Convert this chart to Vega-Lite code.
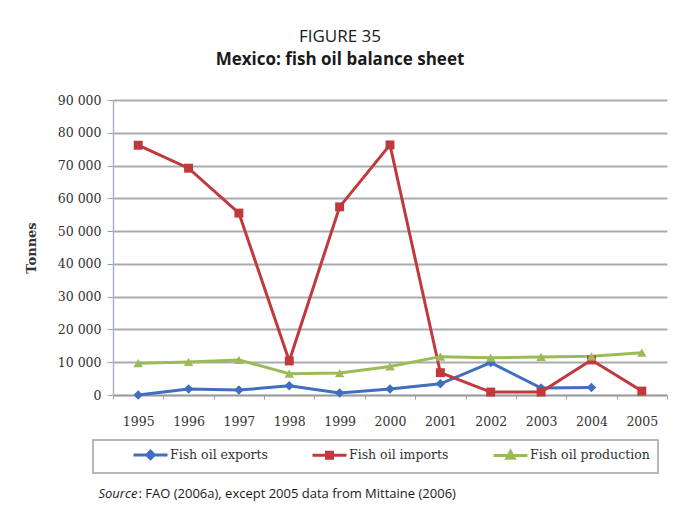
{
  "$schema": "https://vega.github.io/schema/vega-lite/v6.json",
  "autosize": {"type": "none"},
  "width": 554,
  "height": 295,
  "padding": {"left": 113, "top": 100, "right": 8, "bottom": 114},
  "background": "white",
  "title": {
    "text": "FIGURE 35",
    "subtitle": "Mexico: fish oil balance sheet",
    "anchor": "middle",
    "frame": "group",
    "dx": -50,
    "offset": 25,
    "font": "Open Sans",
    "fontSize": 17,
    "fontWeight": "normal",
    "color": "#1a1a1a",
    "subtitleFont": "Open Sans",
    "subtitleFontSize": 17,
    "subtitleFontWeight": "bold",
    "subtitleColor": "#1a1a1a",
    "subtitlePadding": 6
  },
  "data": {
    "values": [
      {"year": "1995", "series": "Fish oil exports", "value": 0},
      {"year": "1996", "series": "Fish oil exports", "value": 1800},
      {"year": "1997", "series": "Fish oil exports", "value": 1500},
      {"year": "1998", "series": "Fish oil exports", "value": 2800},
      {"year": "1999", "series": "Fish oil exports", "value": 600},
      {"year": "2000", "series": "Fish oil exports", "value": 1800},
      {"year": "2001", "series": "Fish oil exports", "value": 3400},
      {"year": "2002", "series": "Fish oil exports", "value": 9900},
      {"year": "2003", "series": "Fish oil exports", "value": 2100},
      {"year": "2004", "series": "Fish oil exports", "value": 2300},
      {"year": "1995", "series": "Fish oil imports", "value": 76200},
      {"year": "1996", "series": "Fish oil imports", "value": 69200},
      {"year": "1997", "series": "Fish oil imports", "value": 55500},
      {"year": "1998", "series": "Fish oil imports", "value": 10400},
      {"year": "1999", "series": "Fish oil imports", "value": 57400},
      {"year": "2000", "series": "Fish oil imports", "value": 76300},
      {"year": "2001", "series": "Fish oil imports", "value": 6800},
      {"year": "2002", "series": "Fish oil imports", "value": 900},
      {"year": "2003", "series": "Fish oil imports", "value": 900},
      {"year": "2004", "series": "Fish oil imports", "value": 10700},
      {"year": "2005", "series": "Fish oil imports", "value": 1200},
      {"year": "1995", "series": "Fish oil production", "value": 9700},
      {"year": "1996", "series": "Fish oil production", "value": 10100},
      {"year": "1997", "series": "Fish oil production", "value": 10700},
      {"year": "1998", "series": "Fish oil production", "value": 6500},
      {"year": "1999", "series": "Fish oil production", "value": 6700},
      {"year": "2000", "series": "Fish oil production", "value": 8700},
      {"year": "2001", "series": "Fish oil production", "value": 11700},
      {"year": "2002", "series": "Fish oil production", "value": 11400},
      {"year": "2003", "series": "Fish oil production", "value": 11600},
      {"year": "2004", "series": "Fish oil production", "value": 11800},
      {"year": "2005", "series": "Fish oil production", "value": 12900}
    ]
  },
  "encoding": {
    "x": {
      "field": "year",
      "type": "ordinal",
      "scale": {"type": "band", "paddingInner": 0, "paddingOuter": 0},
      "axis": {
        "title": ": FAO (2006a), except 2005 data from Mittaine (2006)",
        "titleFont": "Open Sans",
        "titleFontSize": 13,
        "titleFontWeight": "normal",
        "titleColor": "#1a1a1a",
        "titleX": 25,
        "titleY": 102,
        "titleAnchor": "start",
        "titleAlign": "left",
        "titleBaseline": "alphabetic",
        "labelFont": "DejaVu Serif",
        "labelFontSize": 12.5,
        "labelColor": "#333333",
        "labelAngle": 0,
        "labelPadding": 16,
        "tickBand": "extent",
        "tickSize": 4,
        "tickColor": "#a0a0a0",
        "domainColor": "#9a9a9a",
        "domainWidth": 1.5,
        "grid": false
      }
    },
    "color": {
      "field": "series",
      "type": "nominal",
      "scale": {
        "domain": ["Fish oil exports", "Fish oil imports", "Fish oil production"],
        "range": ["#3F6FBE", "#C0393D", "#9BBB59"]
      }
    }
  },
  "layer": [
    {
      "mark": {"type": "line", "strokeWidth": 3},
      "encoding": {
        "y": {
          "field": "value",
          "type": "quantitative",
          "scale": {"domain": [0, 90000]},
          "axis": {
            "title": "Tonnes",
            "titleFont": "DejaVu Serif",
            "titleFontSize": 13,
            "titleFontWeight": "bold",
            "titleColor": "#333333",
            "titlePadding": 19,
            "values": [0, 10000, 20000, 30000, 40000, 50000, 60000, 70000, 80000, 90000],
            "labelExpr": "replace(format(datum.value, ','), ',', ' ')",
            "labelFont": "DejaVu Serif",
            "labelFontSize": 12.5,
            "labelColor": "#333333",
            "labelPadding": 6,
            "tickSize": 6,
            "tickColor": "#a0a0a0",
            "domainColor": "#aab4c4",
            "domainWidth": 1.5,
            "grid": true,
            "gridColor": "#ababab",
            "gridWidth": 2
          }
        },
        "color": {
          "field": "series",
          "type": "nominal",
          "legend": {
            "orient": "none",
            "legendX": -20,
            "legendY": 340,
            "direction": "horizontal",
            "columns": 3,
            "title": "\u00a0\u00a0\u00a0\u00a0\u00a0\u00a0\u00a0\u00a0",
            "titleOrient": "left",
            "titleFont": "DejaVu Serif",
            "titleFontSize": 12,
            "titlePadding": 31,
            "labelFont": "DejaVu Serif",
            "labelFontSize": 12.5,
            "labelColor": "#333333",
            "labelExpr": "datum.label == 'Fish oil production' ? datum.label + '\u00a0\u00a0\u00a0\u00a0' : datum.label",
            "labelLimit": 300,
            "symbolSize": 100,
            "symbolOffset": 12,
            "labelOffset": 13,
            "columnPadding": 38,
            "padding": 8,
            "strokeColor": "#a0a0a0",
            "encode": {
              "legend": {"update": {"strokeWidth": {"value": 1.5}}},
              "symbols": {
                "update": {
                  "shape": {"signal": "datum.value === 'Fish oil exports' ? 'M-3.4,0H3.4M0,-0.75L0.75,0L0,0.75L-0.75,0Z' : datum.value === 'Fish oil imports' ? 'M-3.4,0H3.4M-0.6,-0.6H0.6V0.6H-0.6Z' : 'M-3.4,0H3.4M0,-0.8L0.75,0.55H-0.75Z'"},
                  "fill": {"scale": "color", "field": "value"},
                  "stroke": {"scale": "color", "field": "value"},
                  "strokeWidth": {"value": 3},
                  "opacity": {"value": 1}
                }
              }
            }
          }
        }
      }
    },
    {
      "encoding": {
        "y": {
          "field": "value",
          "type": "quantitative",
          "scale": {"domain": [0, 90000]},
          "axis": {
            "orient": "right",
            "title": "Source",
            "titleFont": "Open Sans",
            "titleFontSize": 13,
            "titleFontWeight": "normal",
            "titleFontStyle": "italic",
            "titleColor": "#1a1a1a",
            "titleAngle": 0,
            "titleX": -569,
            "titleY": 397,
            "titleAlign": "left",
            "titleBaseline": "alphabetic",
            "labels": false,
            "ticks": false,
            "domain": false,
            "grid": false
          }
        }
      },
      "layer": [
        {
          "transform": [{"filter": "datum.series === 'Fish oil exports'"}],
          "mark": {"type": "point", "shape": "diamond", "filled": true, "opacity": 1, "size": 90}
        },
        {
          "transform": [{"filter": "datum.series === 'Fish oil imports'"}],
          "mark": {"type": "point", "shape": "square", "filled": true, "opacity": 1, "size": 80}
        },
        {
          "transform": [{"filter": "datum.series === 'Fish oil production'"}],
          "mark": {"type": "point", "shape": "triangle-up", "filled": true, "opacity": 1, "size": 90}
        }
      ]
    }
  ],
  "resolve": {"scale": {"y": "independent"}},
  "config": {"view": {"stroke": null}}
}
